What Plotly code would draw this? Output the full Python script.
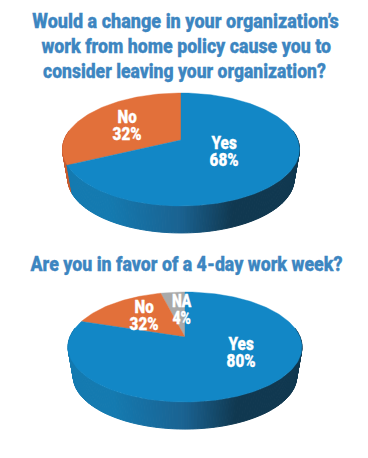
import json
import math
import plotly.graph_objects as go

# ---- data -------------------------------------------------------------
title_a_lines = ["Would a change in your organization’s",
                 "work from home policy cause you to",
                 "consider leaving your organization?"]
title_b_lines = ["Are you in favor of a 4-day work week?"]

pie_a_names = ["No", "Yes"]
pie_a_values = [32, 68]
pie_a_text = ["32%", "68%"]

# slices run counter-clockwise from 12 o'clock
pie_b_names = ["NA", "No", "Yes"]
pie_b_values = [4, 16, 80]
pie_b_text = ["4%", "32%", "80%"]      # printed as in the source

# ---- style ------------------------------------------------------------
TITLE = "#3D86C1"
TOPS = {"Yes": "#1287C6", "No": "#E2703A", "NA": "#A9A9A9"}
WALL_L = {"Yes": (20, 122, 176), "No": (200, 90, 45), "NA": (150, 150, 150)}
WALL_M = (26, 98, 145)
WALL_R = (16, 56, 80)
FONT = "Roboto"

fig = go.Figure()


def persp(t, g, scale=1.0, dy=0.0):
    """t: angle measured counter-clockwise from the top of the pie."""
    u, v = -math.sin(t), math.cos(t)
    w = 1 + g["k"] * v
    x = g["a"] * u / w
    y = -g["b"] * v / w + g["c"]
    return (g["cx"] + x * scale, g["ey"] + (y - g["ey"]) * scale + dy)


def lerp(c1, c2, f):
    return tuple(round(a + (b - a) * f) for a, b in zip(c1, c2))


def wall_colour(name, f):
    if name != "Yes":
        return "rgb(%d,%d,%d)" % WALL_L[name]
    if f < 0.2:
        base = WALL_L[name]
    elif f < 0.5:
        base = lerp(WALL_L[name], WALL_M, (f - 0.2) / 0.3)
    else:
        base = lerp(WALL_M, WALL_R, min(1, (f - 0.5) / 0.22))
    return "rgb(%d,%d,%d)" % base


def add_pie(names, values, g):
    total = sum(values)
    edges = [0.0]
    for v in values:
        edges.append(edges[-1] + v / total * 2 * math.pi)

    # wall: swept along the visible front half
    n = 150
    t0, t1 = math.radians(80), math.radians(280)
    for i in range(n):
        a = t0 + (t1 - t0) * i / n
        b = t0 + (t1 - t0) * (i + 1) / n
        mid = (a + b) / 2
        name = next(nm for nm, e0, e1 in zip(names, edges, edges[1:]) if e0 <= mid < e1)
        pts = [persp(a, g), persp(b, g),
               persp(b, g, g["s"], g["dy"]), persp(a, g, g["s"], g["dy"])]
        xs = [p[0] for p in pts] + [pts[0][0]]
        ys = [p[1] for p in pts] + [pts[0][1]]
        f = (sum(xs[:4]) / 4 - (g["cx"] - g["hw"])) / (2 * g["hw"])
        col = wall_colour(name, f)
        fig.add_trace(go.Scatter(x=xs, y=ys, mode="lines", fill="toself", fillcolor=col,
                                 line=dict(color=col, width=1), hoverinfo="skip", showlegend=False))

    # top face
    for name, e0, e1 in zip(names, edges, edges[1:]):
        m = max(2, int((e1 - e0) * 40))
        pts = [persp(e0 + (e1 - e0) * j / m, g) for j in range(m + 1)]
        xs = [g["cx"]] + [p[0] for p in pts] + [g["cx"]]
        ys = [g["c"]] + [p[1] for p in pts] + [g["c"]]
        fig.add_trace(go.Scatter(x=xs, y=ys, mode="lines", fill="toself", fillcolor=TOPS[name],
                                 line=dict(color=TOPS[name], width=0.4), name=name,
                                 hoverinfo="name", showlegend=False))


geo_a = dict(cx=181.0, c=140.0, ey=149.5, a=116.8, b=54.9, k=0.168, s=0.955, dy=29.5, hw=118.5)
geo_b = dict(cx=185.0, c=337.0, ey=347.0, a=115.0, b=53.2, k=0.182, s=0.955, dy=29.5, hw=117.0)
add_pie(pie_a_names, pie_a_values, geo_a)
add_pie(pie_b_names, pie_b_values, geo_b)

widths = []


def text(s, x, y, size, color, width):
    widths.append(width)
    fig.add_annotation(x=x, y=y, text=s, showarrow=False, xref="x", yref="y",
                       xanchor="center", yanchor="middle",
                       font=dict(family=FONT, size=size, color=color, weight=900))


for line, x, y, w in zip(title_a_lines, [185.5, 186, 184.5], [21, 46, 71], [307, 290, 283]):
    text(line, x, y, 21, TITLE, w)
for line, x, y, w in zip(title_b_lines, [185.5], [264], [313]):
    text(line, x, y, 21, TITLE, w)

label_pos_a = {"No": (127, 124.5, 29), "Yes": (224, 150.5, 29)}
label_pos_b = {"NA": (182, 309, 20), "No": (144, 314.5, 29), "Yes": (241, 352, 29)}
for names, texts, pos in [(pie_a_names, pie_a_text, label_pos_a), (pie_b_names, pie_b_text, label_pos_b)]:
    for nm, tx in zip(names, texts):
        x, y, w = pos[nm]
        text(nm + "<br>" + tx, x, y, 18, "white", w)

fig.update_layout(width=368, height=458, margin=dict(l=0, r=0, t=0, b=0),
                  paper_bgcolor="white", plot_bgcolor="white", showlegend=False,
                  xaxis=dict(range=[0, 368], visible=False, fixedrange=True),
                  yaxis=dict(range=[458, 0], visible=False, fixedrange=True))

post = """
document.body.style.margin = '0';
document.documentElement.style.overflow = 'hidden';
var W = %s;
document.querySelectorAll('.annotation-text').forEach(function (t, i) {
  var b = t.getBBox();
  var f = W[i] / b.width;
  var cx = b.x + b.width / 2;
  var shift = 0;
  var lines = t.querySelectorAll('tspan.line');
  if (lines.length > 1) {
    lines[1].setAttribute('dy', '0.95em');
    shift = 18 * (1.3 - 0.95) / 2;
  }
  t.style.stroke = t.style.fill;
  t.style.strokeWidth = '0.3px';
  t.setAttribute('transform', 'translate(' + cx + ',' + shift + ') scale(' + f + ',1) translate(' + (-cx) + ',0)');
});
""" % json.dumps(widths)
fig.write_html("out.html", config=dict(displayModeBar=False), post_script=post)
